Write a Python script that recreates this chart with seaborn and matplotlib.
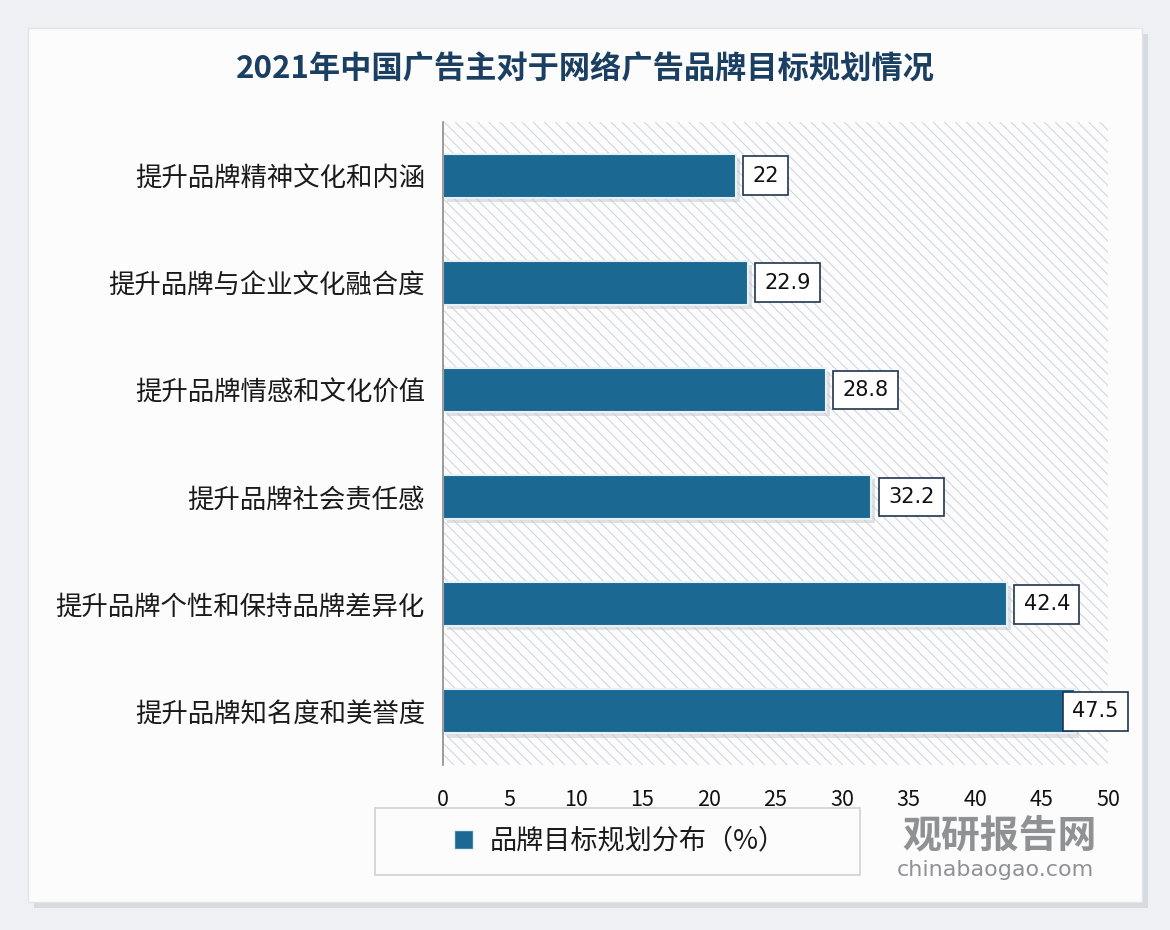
import matplotlib
matplotlib.use("Agg")
import matplotlib.pyplot as plt
import matplotlib.patheffects as pe
from matplotlib.patches import Rectangle, Patch
import seaborn as sns
import pandas as pd

categories = ["提升品牌精神文化和内涵", "提升品牌与企业文化融合度", "提升品牌情感和文化价值",
              "提升品牌社会责任感", "提升品牌个性和保持品牌差异化", "提升品牌知名度和美誉度"]
values = [22, 22.9, 28.8, 32.2, 42.4, 47.5]
xticks = [0, 5, 10, 15, 20, 25, 30, 35, 40, 45, 50]
title = "2021年中国广告主对于网络广告品牌目标规划情况"
series_name = "品牌目标规划分布（%）"

sns.set_theme(style="white")
plt.rcParams['font.family'] = ['Noto Sans CJK SC', 'DejaVu Sans']
plt.rcParams['hatch.linewidth'] = 0.8

W, H = 1170, 930
BAR = "#1b6893"
fig = plt.figure(figsize=(W / 100, H / 100), dpi=100)
fig.patch.set_facecolor("#eef0f3")

# card with shadow
card = Rectangle((28 / W, 28 / H), (1142 - 28) / W, (902 - 28) / H, transform=fig.transFigure,
                 facecolor="#fcfcfd", edgecolor="#e2e4e8", linewidth=1, zorder=-5,
                 path_effects=[pe.SimplePatchShadow(offset=(4, -4), shadow_rgbFace="#c9ccd2", alpha=0.6),
                               pe.Normal()])
fig.patches.append(card)

ax = fig.add_axes([443 / W, 165 / H, (1108 - 443) / W, (808 - 165) / H])
ax.set_facecolor("none")

# hatched background
bg = Rectangle((0, 0), 1, 1, transform=ax.transAxes, facecolor="#fcfcfd",
               edgecolor="#d4d7dc", hatch="\\\\\\", linewidth=0, zorder=0)
ax.add_patch(bg)

df = pd.DataFrame({"cat": categories, "val": values})
sns.barplot(data=df, y="cat", x="val", orient="h", color=BAR, width=0.41,
            saturation=1, ax=ax, zorder=3, edgecolor="#e6f2f8", linewidth=1.5)
if ax.get_legend() is not None:
    ax.get_legend().remove()

for p in ax.patches:
    if p is bg:
        continue
    p.set_path_effects([pe.SimplePatchShadow(offset=(3, -3), shadow_rgbFace="#c4c7cc", alpha=0.5),
                        pe.Normal()])

ax.set_xlim(0, 50)
ax.set_ylim(5.5, -0.5)
ax.set_xticks(xticks)
ax.set_xticklabels([str(t) for t in xticks], fontsize=15.5, color="#111111")
ax.tick_params(axis="x", length=0, pad=17)
ax.tick_params(axis="y", length=0, pad=13)
for lbl in ax.get_yticklabels():
    lbl.set_fontsize(19)
    lbl.set_color("#1a1a1a")
ax.set_xlabel("")
ax.set_ylabel("")
for s in ["top", "right", "bottom"]:
    ax.spines[s].set_visible(False)
ax.spines["left"].set_color("#8c8c8c")
ax.spines["left"].set_linewidth(1.2)
ax.spines["left"].set_zorder(5)

# value labels
for i, v in enumerate(values):
    off = -2 if v > 45 else 12
    ax.annotate(f"{v:g}", xy=(v, i), xytext=(off, 0), textcoords="offset points",
                ha="left", va="center", fontsize=15, color="#111111", zorder=6,
                family=["DejaVu Sans"],
                bbox=dict(boxstyle="square,pad=0.45", facecolor="white", edgecolor="#1e3550", linewidth=1.2))

# legend frame and legend
lf = Rectangle((375 / W, (930 - 875) / H), (860 - 375) / W, (875 - 808) / H, transform=fig.transFigure,
               facecolor="#fcfcfd", edgecolor="#cfd2d6", linewidth=1.2, zorder=1)
fig.patches.append(lf)
handle = Patch(facecolor=BAR, edgecolor="#e6f2f8", linewidth=1.0, label=series_name)
leg = fig.legend([handle], [series_name], loc="center", bbox_to_anchor=(620 / W, 1 - 841 / H),
                 frameon=False, fontsize=19.5, handlelength=0.7, handleheight=0.7,
                 handletextpad=0.6)
for t in leg.get_texts():
    t.set_color("#1a1a1a")

# title
fig.text(585 / W, 1 - 70 / H, title, ha="center", va="center", fontsize=22.5, fontweight="bold",
         color="#1b3f62")

# watermark
fig.text(1000 / W, 1 - 836 / H, "观研报告网", ha="center", va="center", fontsize=28,
         fontweight="bold", color="#7d7f83", alpha=0.85)
fig.text(995 / W, 1 - 870 / H, "chinabaogao.com", ha="center", va="center", fontsize=16,
         color="#7d7f83", alpha=0.85, family=["DejaVu Sans"])

fig.savefig("out.png", dpi=100, facecolor=fig.get_facecolor())
